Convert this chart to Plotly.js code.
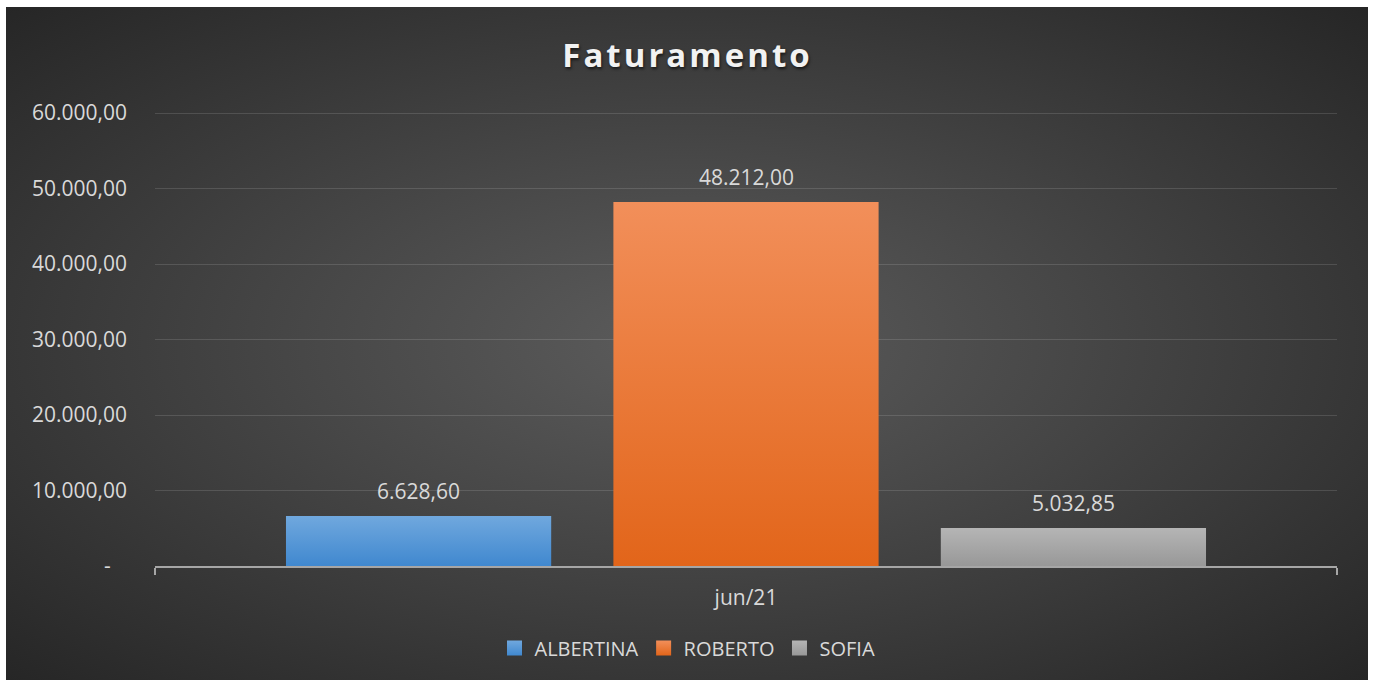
<!DOCTYPE html>
<html>
<head>
<meta charset="utf-8">
<script src="https://cdn.plot.ly/plotly-3.0.1.min.js"></script>
<style>
  html, body { margin: 0; padding: 0; background: #ffffff; }
  #bg {
    position: absolute; left: 6px; top: 7px; width: 1362px; height: 673px;
    background: radial-gradient(ellipse farthest-corner at 50% 50%, #5c5c5c 0%, #474747 40%, #262626 100%);
  }
  #chart { position: absolute; left: 0; top: 0; width: 1375px; height: 682px; }
  .gtitle { letter-spacing: 3px; }
</style>
</head>
<body>
<div id="bg"></div>
<div id="chart"></div>
<script>
const categories = ["jun/21"];
const seriesNames = ["ALBERTINA", "ROBERTO", "SOFIA"];
const seriesValues = [6628.60, 48212.00, 5032.85];
const seriesColors = ["#5b9bd5", "#ed7d31", "#a5a5a5"];
const gradientTop = ["#70a8de", "#f28f5a", "#b5b5b5"];
const gradientBottom = ["#4088cf", "#e2651a", "#989898"];
const yTickVals = [0, 10000, 20000, 30000, 40000, 50000, 60000];
const yTickText = ["-\u00a0\u00a0\u00a0", "10.000,00", "20.000,00", "30.000,00", "40.000,00", "50.000,00", "60.000,00"];

function fmtBR(v) {
  const parts = v.toFixed(2).split(".");
  parts[0] = parts[0].replace(/\B(?=(\d{3})+(?!\d))/g, ".");
  return parts[0] + "," + parts[1];
}

const FONT = "'Open Sans', 'Noto Sans', sans-serif";
const bargap = 0.169;
const bargroupgap = 0.19;

const traces = seriesNames.map((name, i) => ({
  type: "bar",
  name: name,
  x: categories,
  y: [seriesValues[i]],
  marker: { color: seriesColors[i], line: { width: 0 } },
  hoverinfo: "skip"
}));

const n = seriesNames.length;
const slot = (1 - bargap) / n;
const annotations = seriesValues.map((v, i) => ({
  xref: "x", yref: "y",
  x: (i - (n - 1) / 2) * slot,
  y: v,
  yshift: 25,
  yanchor: "middle",
  text: fmtBR(v),
  showarrow: false,
  font: { family: FONT, size: 21, color: "#d9d9d9" }
}));

const layout = {
  width: 1375, height: 682,
  paper_bgcolor: "rgba(0,0,0,0)",
  plot_bgcolor: "rgba(0,0,0,0)",
  margin: { l: 155, r: 38, t: 111, b: 116 },
  title: {
    text: "Faturamento",
    xref: "container", x: 0.5, xanchor: "center",
    yref: "container", y: 1 - 55 / 682, yanchor: "middle",
    font: { family: FONT, size: 33, weight: 700, color: "#f2f2f2", shadow: "1px 2px 3px rgba(0,0,0,0.6)" }
  },
  barmode: "group",
  bargap: bargap,
  bargroupgap: bargroupgap,
  showlegend: true,
  legend: {
    orientation: "h",
    xref: "container", x: 0.5, xanchor: "center",
    yref: "container", y: 1 - 648 / 682, yanchor: "middle",
    font: { family: FONT, size: 20, color: "#d9d9d9" },
    bgcolor: "rgba(0,0,0,0)"
  },
  xaxis: {
    type: "category",
    showline: true, linecolor: "#a6a6a6", linewidth: 2,
    ticks: "outside", tickson: "boundaries", ticklen: 7, tickwidth: 2, tickcolor: "#a6a6a6",
    ticklabelstandoff: 12,
    tickfont: { family: FONT, size: 21, color: "#d9d9d9" },
    showgrid: false, zeroline: false, fixedrange: true
  },
  yaxis: {
    range: [0, 60265],
    tickvals: yTickVals, ticktext: yTickText,
    showgrid: true, gridcolor: "rgba(255,255,255,0.13)", gridwidth: 1,
    zeroline: false, showline: false, ticks: "",
    ticklabelstandoff: 27,
    tickfont: { family: FONT, size: 21, color: "#d9d9d9" },
    fixedrange: true
  },
  annotations: annotations
};

Plotly.newPlot("chart", traces, layout, { displayModeBar: false, staticPlot: true }).then(gd => {
  const svg = gd.querySelector("svg.main-svg");
  const NS = "http://www.w3.org/2000/svg";
  let defs = svg.querySelector("defs");
  if (!defs) { defs = document.createElementNS(NS, "defs"); svg.insertBefore(defs, svg.firstChild); }
  seriesNames.forEach((name, i) => {
    const g = document.createElementNS(NS, "linearGradient");
    g.setAttribute("id", "bargrad" + i);
    g.setAttribute("x1", "0"); g.setAttribute("y1", "0");
    g.setAttribute("x2", "0"); g.setAttribute("y2", "1");
    [[0, gradientTop[i]], [1, gradientBottom[i]]].forEach(([o, c]) => {
      const s = document.createElementNS(NS, "stop");
      s.setAttribute("offset", o);
      s.setAttribute("stop-color", c);
      g.appendChild(s);
    });
    defs.appendChild(g);
  });
  gd.querySelectorAll(".barlayer .trace").forEach((tr, i) => {
    tr.querySelectorAll("path").forEach(p => { p.style.fill = "url(#bargrad" + i + ")"; });
  });
  gd.querySelectorAll(".legend .traces").forEach((tr, i) => {
    tr.querySelectorAll(".legendpoints path").forEach(p => {
      p.setAttribute("d", "M7.5,7.5H-7.5V-7.5H7.5Z");
      p.style.fill = "url(#bargrad" + i + ")";
    });
  });
});
</script>
</body>
</html>
